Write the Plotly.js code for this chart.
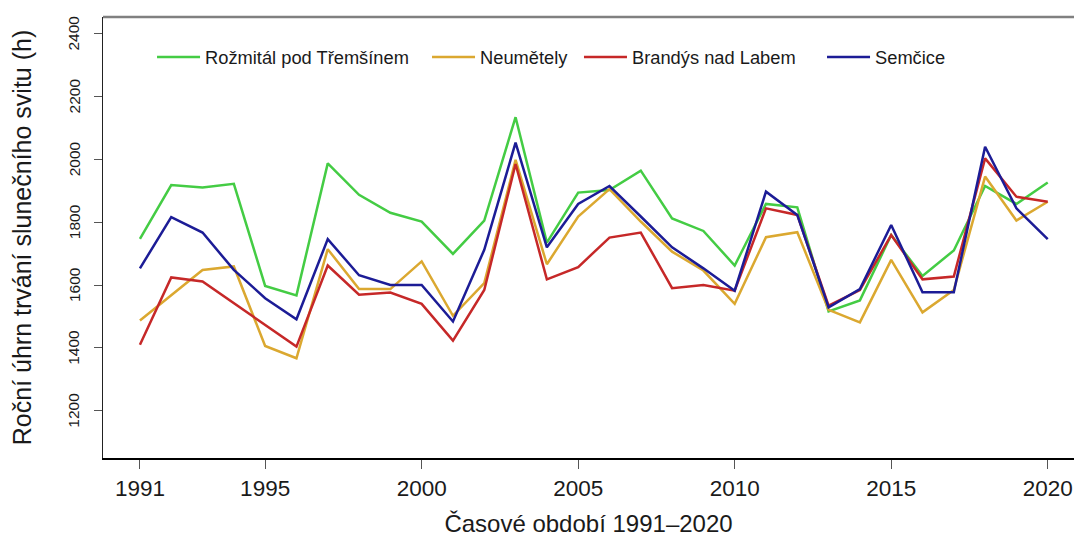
<!DOCTYPE html>
<html>
<head>
<meta charset="utf-8">
<script src="https://cdn.plot.ly/plotly-3.0.1.min.js"></script>
<style>html,body{margin:0;padding:0;overflow:hidden;background:#fff}#chart{width:1074px;height:537px}</style>
</head>
<body>
<div id="chart"></div>
<script>
var years = [1991,1992,1993,1994,1995,1996,1997,1998,1999,2000,2001,2002,2003,2004,2005,2006,2007,2008,2009,2010,2011,2012,2013,2014,2015,2016,2017,2018,2019,2020];
var rozmital = [1747,1918,1910,1922,1597,1567,1987,1887,1830,1802,1699,1805,2134,1735,1894,1902,1964,1812,1772,1662,1858,1847,1516,1551,1759,1629,1710,1915,1858,1926];
var neumetely = [1487,1569,1648,1659,1406,1367,1714,1587,1587,1675,1502,1606,1998,1666,1818,1905,1802,1706,1646,1540,1752,1768,1521,1481,1680,1513,1584,1945,1805,1865];
var brandys = [1410,1624,1611,1542,1473,1404,1662,1569,1576,1540,1423,1584,1985,1618,1657,1751,1767,1590,1600,1582,1844,1823,1534,1584,1759,1618,1627,2003,1881,1865];
var semcice = [1653,1816,1767,1648,1558,1491,1746,1631,1600,1600,1484,1712,2053,1720,1858,1915,1818,1720,1653,1582,1897,1823,1529,1587,1791,1577,1577,2040,1844,1746];
var seriesNames = ["Rožmitál pod Třemšínem","Neumětely","Brandýs nad Labem","Semčice"];
var seriesColors = ["#44cc44","#dba830","#c62828","#1c1c96"];
var xTicks = [1991,1995,2000,2005,2010,2015,2020];
var yTicks = [1200,1400,1600,1800,2000,2200,2400];

var allSeries = [rozmital, neumetely, brandys, semcice];
var legendIds = ["legend","legend2","legend3","legend4"];
var legendX = [0.0505, 0.3337, 0.4902, 0.7405];
var font = "Liberation Sans, Arial, sans-serif";
var yRange = [1049.5, 2452.8];
var traces = allSeries.map(function(s,i){
  return {x: years, y: s, type: "scatter", mode: "lines", name: seriesNames[i],
    legend: legendIds[i],
    line: {color: seriesColors[i], width: 2.5}};
});

// y tick labels: vertical text placed on the y scale
var yLabelAnnotations = yTicks.map(function(v){
  return {x: 0, xref: "paper", y: v, yref: "y", text: String(v), textangle: -90,
    xanchor: "center", yanchor: "middle", xshift: -29, showarrow: false,
    font: {family: font, size: 15.5, color: "#1a1a1a"}};
});

var layout = {
  width: 1074, height: 537,
  margin: {l: 103, r: 0, t: 17, b: 79},
  paper_bgcolor: "#fff", plot_bgcolor: "#fff",
  font: {family: font, color: "#222"},
  showlegend: true,
  xaxis: {range: [1989.82, 2020.84], tickvals: xTicks, ticktext: xTicks.map(String),
    showgrid: false, zeroline: false, showline: true, linecolor: "#000", linewidth: 1.5,
    ticks: "outside", ticklen: 9, tickcolor: "#555", tickwidth: 1,
    tickfont: {family: font, size: 22.5, color: "#1a1a1a"},
    title: {text: "Časové období 1991–2020", font: {family: font, size: 24, color: "#1a1a1a"}, standoff: 23}},
  yaxis: {range: yRange, tickvals: yTicks, showticklabels: false,
    showgrid: false, zeroline: false, showline: true, linecolor: "#222", linewidth: 1.5,
    ticks: "outside", ticklen: 8, tickcolor: "#555", tickwidth: 1,
    title: {text: "Roční úhrn trvání slunečního svitu (h)", font: {family: font, size: 25, color: "#1a1a1a"}, standoff: 55}},
  annotations: yLabelAnnotations,
  shapes: [{type: "line", xref: "paper", yref: "paper", x0: 0, x1: 1, y0: 1, y1: 1,
    line: {color: "#808080", width: 2.5}}]
};
legendIds.forEach(function(id, i){
  layout[id] = {orientation: "h", x: legendX[i], y: 0.909, xanchor: "left", yanchor: "middle",
    font: {family: font, size: 18.3, color: "#1a1a1a"}, itemwidth: 43, bgcolor: "rgba(0,0,0,0)"};
});

Plotly.newPlot("chart", traces, layout, {displayModeBar: false, staticPlot: true});
</script>
</body>
</html>
